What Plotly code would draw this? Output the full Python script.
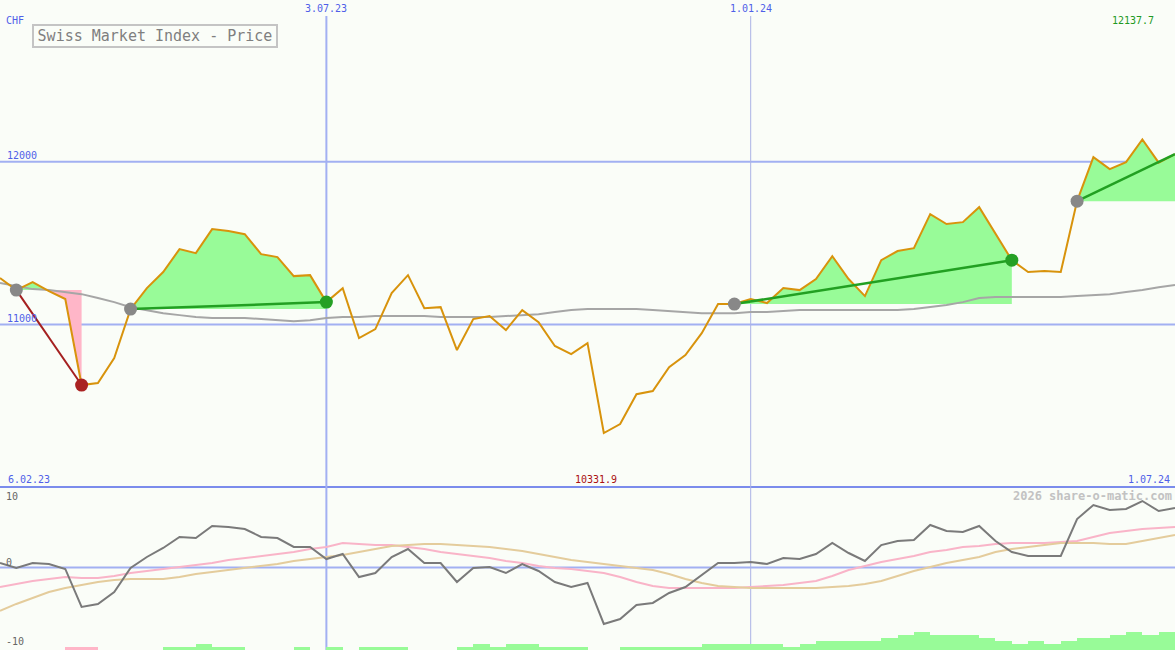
import numpy as np
import pandas as pd
import plotly.graph_objects as go

# ---------------- data ----------------
dates = pd.date_range("2023-02-13", periods=73, freq="7D")

price = [11285, 11211, 11260, 11205, 11156, 10627, 10639, 10793, 11094, 11223,
         11322, 11463, 11438, 11586, 11574, 11555, 11432, 11414, 11297, 11303,
         11137, 11223, 10916, 10971, 11193, 11303, 11100, 11106, 10842, 11033,
         11051, 10965, 11088, 11014, 10867, 10817, 10885, 10331.9, 10387, 10571,
         10590, 10737, 10811, 10946, 11125, 11125, 11156, 11131, 11223, 11211,
         11279, 11420, 11279, 11174, 11395, 11451, 11469, 11678, 11617, 11629,
         11721, 11560, 11395, 11322, 11328, 11322, 11758, 12029, 11955, 11998,
         12137.7, 11995, 12047]

price_ma = [11254, 11236, 11217, 11211, 11199, 11186, 11162, 11137, 11106, 11088,
            11069, 11057, 11045, 11039, 11039, 11039, 11033, 11026, 11020, 11026,
            11039, 11045, 11045, 11051, 11051, 11051, 11051, 11045, 11045, 11045,
            11045, 11051, 11057, 11063, 11076, 11088, 11094, 11094, 11094, 11094,
            11088, 11082, 11076, 11069, 11069, 11069, 11076, 11076, 11082, 11088,
            11088, 11088, 11088, 11088, 11088, 11088, 11094, 11106, 11119, 11137,
            11162, 11168, 11168, 11168, 11168, 11168, 11174, 11180, 11186, 11199,
            11211, 11229, 11242]

momentum = [0.64, -0.07, 0.64, 0.5, -0.21, -5.64, -5.21, -3.5, -0.07, 1.5,
            2.79, 4.36, 4.21, 5.93, 5.79, 5.5, 4.36, 4.21, 2.93, 2.93,
            1.21, 1.93, -1.36, -0.79, 1.5, 2.64, 0.64, 0.64, -2.07, -0.07,
            0.07, -0.79, 0.5, -0.5, -2.07, -2.79, -2.21, -8.07, -7.36, -5.36,
            -5.07, -3.64, -2.79, -1.07, 0.64, 0.64, 0.79, 0.5, 1.36, 1.21,
            1.93, 3.5, 2.07, 0.93, 3.21, 3.79, 3.93, 6.07, 5.21, 5.07,
            5.93, 3.79, 2.21, 1.64, 1.64, 1.64, 6.93, 8.93, 8.21, 8.36,
            9.5, 8.07, 8.5]

mom_ma_fast = [-2.79, -2.36, -1.93, -1.64, -1.36, -1.5, -1.5, -1.21, -0.79, -0.5,
               -0.21, 0.07, 0.36, 0.64, 1.07, 1.36, 1.64, 1.93, 2.21, 2.64,
               2.93, 3.5, 3.36, 3.21, 3.21, 2.93, 2.64, 2.21, 1.93, 1.64,
               1.36, 0.93, 0.64, 0.21, -0.07, -0.21, -0.5, -0.79, -1.36, -2.07,
               -2.64, -2.93, -2.93, -2.93, -2.93, -2.93, -2.79, -2.64, -2.5, -2.21,
               -1.93, -1.21, -0.36, 0.21, 0.79, 1.21, 1.64, 2.21, 2.5, 2.93,
               3.07, 3.36, 3.5, 3.5, 3.5, 3.64, 3.79, 4.36, 4.93, 5.21,
               5.5, 5.64, 5.79]

mom_ma_slow = [-6.21, -5.21, -4.36, -3.5, -2.93, -2.5, -2.07, -1.79, -1.64, -1.64,
               -1.64, -1.36, -0.93, -0.64, -0.36, -0.07, 0.21, 0.5, 0.93, 1.21,
               1.5, 1.79, 2.21, 2.64, 3.07, 3.21, 3.36, 3.36, 3.21, 3.07,
               2.93, 2.64, 2.36, 1.93, 1.5, 1.07, 0.79, 0.5, 0.21, -0.07,
               -0.36, -0.93, -1.64, -2.21, -2.64, -2.79, -2.93, -2.93, -2.93, -2.93,
               -2.93, -2.79, -2.64, -2.36, -1.93, -1.21, -0.5, 0.07, 0.64, 1.07,
               1.5, 2.21, 2.64, 2.93, 3.21, 3.5, 3.5, 3.5, 3.36, 3.36,
               3.79, 4.21, 4.64]

bar_levels = [0, 0, 0, 0, -1, -1, 0, 0, 0, 0,
              1, 1, 2, 1, 1, 0, 0, 0, 1, 0,
              1, 0, 1, 1, 1, 0, 0, 0, 1, 2,
              1, 2, 2, 1, 1, 1, 0, 0, 1, 1,
              1, 1, 1, 2, 2, 2, 2, 2, 1, 2,
              3, 3, 3, 3, 4, 5, 6, 5, 5, 5,
              4, 3, 2, 3, 2, 3, 4, 4, 5, 6,
              5, 6]

swing_start = [1, 8, 45, 66]
swing_end = [5, 20, 62, 72]
swing_end_dot = [True, True, True, False]

title = "Swiss Market Index - Price"
currency = "CHF"
max_label = "12137.7"
min_label = "10331.9"
price_ticks = [12000, 11000]
date_marks = ["2023-07-03", "2024-01-01"]
date_mark_labels = ["3.07.23", "1.01.24"]
start_label = "6.02.23"
end_label = "1.07.24"
osc_ticks = [10, 0, -10]
watermark = "2026 share-o-matic.com"

# ---------------- style ----------------
W, H = 1175, 650
BG = "#fafdf8"
BLUE_TXT = "#4f5fe8"
GRID = "#a2b0f2"
ORANGE = "#d8930c"
GREEN_FILL = "#98fb98"
PINK_FILL = "#ffb6c8"
GREEN_LINE = "#22a022"
RED_LINE = "#a52020"
DOT_GRAY = "#888888"
FONT = "DejaVu Sans Mono"

UP_DOM = [(H - 487) / H, 1.0]
LO_DOM = [0.0, (H - 488) / H]

fig = go.Figure()

# ----- swing fills (green above the start level, pink below) -----
tms = dates.values.astype("datetime64[ms]").astype(np.int64)


def swing_polys(a, b):
    base = price[a]
    xs, ys = [], []
    for i in range(a, b + 1):
        if i > a:
            d0, d1 = price[i - 1] - base, price[i] - base
            if d0 * d1 < 0:
                f = d0 / (d0 - d1)
                xs.append(tms[i - 1] + f * (tms[i] - tms[i - 1]))
                ys.append(base)
        xs.append(tms[i])
        ys.append(price[i])
    xs = np.array(xs, dtype=float)
    ys = np.array(ys, dtype=float)
    up = np.maximum(ys, base)
    dn = np.minimum(ys, base)
    px = list(pd.to_datetime(xs, unit="ms")) + [pd.to_datetime(xs[-1], unit="ms"), pd.to_datetime(xs[0], unit="ms")]
    return base, px, list(up) + [base, base], list(dn) + [base, base]


for a, b in zip(swing_start, swing_end):
    base, px, up, dn = swing_polys(a, b)
    if max(up) > base:
        fig.add_trace(go.Scatter(x=px, y=up, fill="toself", fillcolor=GREEN_FILL,
                                 mode="none", hoverinfo="skip", showlegend=False,
                                 xaxis="x", yaxis="y"))
    if min(dn) < base:
        fig.add_trace(go.Scatter(x=px, y=dn, fill="toself", fillcolor=PINK_FILL,
                                 mode="none", hoverinfo="skip", showlegend=False,
                                 xaxis="x", yaxis="y"))

# ----- moving average & price -----
fig.add_trace(go.Scatter(x=dates, y=price_ma, mode="lines",
                         line=dict(color="#a6a6a6", width=2), showlegend=False,
                         xaxis="x", yaxis="y"))
fig.add_trace(go.Scatter(x=dates, y=price, mode="lines",
                         line=dict(color=ORANGE, width=2), showlegend=False,
                         xaxis="x", yaxis="y"))

# ----- trend lines and swing dots -----
for a, b, has_dot in zip(swing_start, swing_end, swing_end_dot):
    down = price[b] < price[a]
    col = RED_LINE if down else GREEN_LINE
    fig.add_trace(go.Scatter(x=[dates[a], dates[b]], y=[price[a], price[b]], mode="lines",
                             line=dict(color=col, width=2 if down else 2.5),
                             showlegend=False, xaxis="x", yaxis="y"))
    fig.add_trace(go.Scatter(x=[dates[a]], y=[price[a]], mode="markers",
                             marker=dict(color=DOT_GRAY, size=13, line=dict(width=0)),
                             showlegend=False, xaxis="x", yaxis="y"))
    if has_dot:
        fig.add_trace(go.Scatter(x=[dates[b]], y=[price[b]], mode="markers",
                                 marker=dict(color=("#aa2222" if down else "#25a025"), size=13,
                                             line=dict(width=0)),
                                 showlegend=False, xaxis="x", yaxis="y"))

# ----- lower oscillator panel -----
fig.add_trace(go.Scatter(x=dates, y=mom_ma_fast, mode="lines",
                         line=dict(color="#f9b4c8", width=2), showlegend=False,
                         xaxis="x2", yaxis="y2"))
fig.add_trace(go.Scatter(x=dates, y=mom_ma_slow, mode="lines",
                         line=dict(color="#e4cc9c", width=2), showlegend=False,
                         xaxis="x2", yaxis="y2"))
fig.add_trace(go.Scatter(x=dates, y=momentum, mode="lines",
                         line=dict(color="#7a7a7a", width=2), showlegend=False,
                         xaxis="x2", yaxis="y2"))

bar_dates = dates[:len(bar_levels)]
bar_h = [abs(v) for v in bar_levels]
bar_c = [GREEN_FILL if v > 0 else PINK_FILL for v in bar_levels]
fig.add_trace(go.Bar(x=bar_dates, y=bar_h, marker=dict(color=bar_c, line=dict(width=0)),
                     width=7 * 86400000, offset=0, showlegend=False, hoverinfo="skip",
                     xaxis="x2", yaxis="y3"))

# ----- grid shapes -----
shapes = []
for v in price_ticks:
    shapes.append(dict(type="line", xref="paper", yref="y", x0=0, x1=1, y0=v, y1=v,
                       line=dict(color=GRID, width=2), layer="below"))
shapes.append(dict(type="line", xref="paper", yref="y2", x0=0, x1=1, y0=0, y1=0,
                   line=dict(color=GRID, width=2), layer="below"))
shapes.append(dict(type="line", xref="paper", yref="paper", x0=0, x1=1,
                   y0=(H - 487) / H, y1=(H - 487) / H,
                   line=dict(color="#7b8cec", width=2), layer="below"))
for i, d in enumerate(date_marks):
    shapes.append(dict(type="line", xref="x", yref="paper", x0=d, x1=d,
                       y0=0, y1=(H - 16) / H,
                       line=dict(color=GRID if i == 0 else "#aab2e6", width=2 if i == 0 else 1),
                       layer="below"))

# ----- text -----
ann = []


def txt(s, x, y, color, size=10, xanchor="left", xref="paper"):
    ann.append(dict(text=s, x=(x / W if xref == "paper" else x), y=1 - y / H,
                    xref=xref, yref="paper", xanchor=xanchor, yanchor="middle",
                    showarrow=False, borderpad=0,
                    font=dict(family=FONT, size=size, color=color)))


txt(currency, 5, 20, BLUE_TXT)
for d, lab in zip(date_marks, date_mark_labels):
    txt(lab, d, 9, BLUE_TXT, xanchor="center", xref="x")
txt(max_label, 1155, 21, "#229922", xanchor="right")
txt(str(price_ticks[0]), 6, 155, BLUE_TXT)
txt(str(price_ticks[1]), 6, 318, BLUE_TXT)
txt(start_label, 7, 479, BLUE_TXT)
txt(min_label, 596, 479, "#aa1111", xanchor="center")
txt(end_label, 1171, 479, BLUE_TXT, xanchor="right")
for v, yy in zip(osc_ticks, [496, 562, 641]):
    txt(str(v), 5, yy, "#666666")
txt("<b>" + watermark + "</b>", 1173, 496, "#c2c2c2", size=12, xanchor="right")

ann.append(dict(text=title, x=155 / W, y=1 - 36 / H, xref="paper", yref="paper",
                xanchor="center", yanchor="middle", showarrow=False,
                width=242, height=20, borderwidth=2, borderpad=0,
                bordercolor="#c4c4c4", bgcolor=BG,
                font=dict(family=FONT, size=15, color="#7f7f7f")))

xr = [dates[0], dates[-1]]
fig.update_layout(
    width=W, height=H, autosize=False,
    margin=dict(l=0, r=0, t=0, b=0),
    paper_bgcolor=BG, plot_bgcolor=BG,
    showlegend=False, bargap=0,
    xaxis=dict(type="date", range=xr, domain=[0, 1], anchor="y", visible=False,
               showgrid=False, zeroline=False),
    xaxis2=dict(type="date", range=xr, domain=[0, 1], anchor="y2", matches="x",
                visible=False, showgrid=False, zeroline=False),
    yaxis=dict(range=[10000, 12995], domain=UP_DOM, anchor="x", visible=False,
               showgrid=False, zeroline=False),
    yaxis2=dict(range=[-11.79, 11.36], domain=LO_DOM, anchor="x2", visible=False,
                showgrid=False, zeroline=False),
    yaxis3=dict(range=[0, 54], overlaying="y2", anchor="x2", visible=False,
                showgrid=False, zeroline=False),
    shapes=shapes,
    annotations=ann,
)

fig.write_html("out.html", config={"displayModeBar": False},
               post_script="document.body.style.margin='0';document.body.style.background='" + BG + "';")
